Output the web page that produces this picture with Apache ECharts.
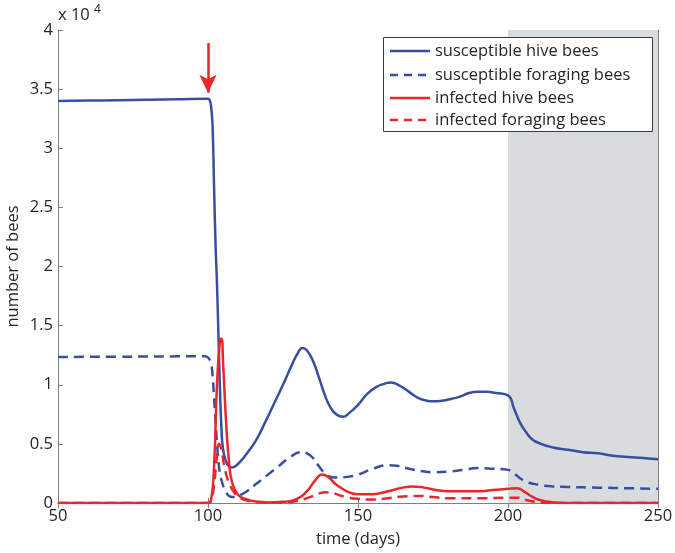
<!DOCTYPE html>
<html><head><meta charset="utf-8">
<script src="https://cdn.jsdelivr.net/npm/echarts@6/dist/echarts.min.js"></script>
<style>html,body{margin:0;padding:0;background:#fff}#c{width:675px;height:553px}</style>
</head><body><div id="c"></div>
<script>
// values in units of 10^4 bees
const xTicks = [50, 100, 150, 200, 250];
const yTicks = [0, 0.5, 1, 1.5, 2, 2.5, 3, 3.5, 4];
const seriesNames = ['susceptible hive bees', 'susceptible foraging bees', 'infected hive bees', 'infected foraging bees'];

const shDays = [50,60,70,80,90,99,100,100.5,101,101.5,102,102.5,103,103.5,104,104.5,105,106,107,108,110,113,116,119,122,125,128,130,131.5,133,135,137,139,141,143,145,147,150,153,156,159,161,164,167,170,173,175,178,181,184,187,190,193,196,200,202,204,206,208,211,215,220,225,230,235,240,245,250];
const shVals = [3.40,3.403,3.406,3.41,3.414,3.418,3.418,3.41,3.36,3.2,2.7,2.2,1.85,1.4,0.95,0.62,0.46,0.35,0.31,0.30,0.33,0.42,0.53,0.68,0.84,1.0,1.17,1.27,1.31,1.29,1.2,1.06,0.91,0.8,0.745,0.73,0.76,0.83,0.92,0.98,1.01,1.02,0.99,0.94,0.89,0.865,0.86,0.865,0.88,0.9,0.93,0.94,0.94,0.93,0.91,0.8,0.68,0.6,0.54,0.5,0.47,0.45,0.43,0.42,0.40,0.39,0.38,0.37];

const sfDays = [50,70,90,99,100,101,101.5,102,102.5,103,103.5,104,105,106,107,108,110,113,116,118,120,123,127,131,133,135,137,139,141,143,146,150,155,160,163,167,171,175,180,185,190,195,200,202,204,206,208,211,215,220,230,240,250];
const sfVals = [1.235,1.237,1.24,1.24,1.23,1.18,1.08,0.9,0.7,0.5,0.35,0.25,0.15,0.09,0.06,0.05,0.06,0.1,0.16,0.2,0.24,0.3,0.38,0.43,0.42,0.38,0.31,0.25,0.22,0.215,0.22,0.24,0.29,0.32,0.315,0.29,0.27,0.26,0.265,0.28,0.295,0.29,0.28,0.25,0.21,0.18,0.165,0.15,0.14,0.135,0.13,0.125,0.12];

const ihDays = [50,100,101,102,103,104,104.5,105,106,107,108,110,113,116,120,125,130,133,136,138,140,143,147,150,155,160,165,168,172,176,180,190,195,200,203,206,208,210,213,216,220,250];
const ihVals = [0,0,0.02,0.3,1.0,1.38,1.39,1.2,0.7,0.35,0.18,0.07,0.03,0.012,0.005,0.01,0.04,0.1,0.2,0.24,0.22,0.15,0.09,0.075,0.075,0.1,0.13,0.14,0.13,0.11,0.1,0.1,0.11,0.12,0.125,0.085,0.055,0.03,0.012,0.004,0,0];

const ifDays = [50,100,101,102,103,103.7,104.5,105.5,107,109,111,114,118,125,130,134,137,139,142,146,150,155,160,165,170,175,180,190,200,203,206,209,213,250];
const ifVals = [0,0,0.02,0.15,0.4,0.5,0.45,0.3,0.17,0.08,0.04,0.015,0.005,0.005,0.02,0.05,0.08,0.09,0.08,0.05,0.035,0.03,0.04,0.055,0.06,0.05,0.04,0.04,0.045,0.045,0.025,0.01,0,0];

const shadeRange = [200, 250];
const arrowFrom = [100, 3.89];
const arrowTo = [100, 3.47];

const BLUE = '#3a4ea1', RED = '#e8262b', TXT = '#262626', FONT = '"Open Sans", "Noto Sans", sans-serif';
const DASH = [10, 6];
const seriesColors = [BLUE, BLUE, RED, RED];
const seriesDashed = [false, true, false, true];
const zip = (d, v) => d.map((x, i) => [x, v[i]]);

const chart = echarts.init(document.getElementById('c'));
const base = { type: 'line', symbol: 'none', smooth: 0.5, z: 3 };
const axisCommon = {
  type: 'value',
  axisLine: { show: true, lineStyle: { color: '#7f7f7f', width: 1 } },
  axisTick: { show: true, inside: true, length: 5, lineStyle: { color: '#7f7f7f' } },
  splitLine: { show: false }
};

// manual legend box
const LG = { x: 383, y: 37, w: 269, h: 94, rows: [51, 75, 98, 120], lx0: 390, lx1: 430, tx: 435 };
const legendGraphics = [{
  type: 'rect', z: 100, shape: { x: LG.x + 0.5, y: LG.y + 0.5, width: LG.w, height: LG.h },
  style: { fill: '#fff', stroke: '#3a3a3a', lineWidth: 1 }
}];
seriesNames.forEach((n, i) => {
  legendGraphics.push({
    type: 'line', z: 101,
    shape: { x1: LG.lx0, y1: LG.rows[i], x2: LG.lx1, y2: LG.rows[i] },
    style: { stroke: seriesColors[i], lineWidth: 2.5, lineDash: seriesDashed[i] ? [8, 6] : null }
  });
  legendGraphics.push({
    type: 'text', z: 101, x: LG.tx, y: LG.rows[i],
    style: { text: n, fontSize: 16.5, fill: TXT, fontFamily: FONT, verticalAlign: 'middle' }
  });
});

chart.setOption({
  animation: false,
  textStyle: { fontFamily: FONT },
  grid: { left: 58, right: 17, top: 30, bottom: 50, containLabel: false, outerBoundsMode: 'none' },
  xAxis: [Object.assign({}, axisCommon, {
    min: 50, max: 250, interval: 50,
    axisLabel: { color: TXT, fontSize: 16.5, margin: 5 },
    name: 'time (days)', nameLocation: 'middle', nameGap: 28,
    nameTextStyle: { color: TXT, fontSize: 16.5 }
  }), Object.assign({}, axisCommon, {
    min: 50, max: 250, interval: 50, position: 'top', axisLabel: { show: false }
  })],
  yAxis: [Object.assign({}, axisCommon, {
    min: 0, max: 4, interval: 0.5,
    axisLabel: { color: TXT, fontSize: 16.5, margin: 5 },
    name: 'number of bees', nameLocation: 'middle', nameGap: 36, nameRotate: 90, nameMoveOverlap: false,
    nameTextStyle: { color: TXT, fontSize: 16.5 }
  }), Object.assign({}, axisCommon, {
    min: 0, max: 4, interval: 0.5, position: 'right', axisLabel: { show: false }
  })],
  series: [
    Object.assign({}, base, {
      name: seriesNames[0], data: zip(shDays, shVals),
      lineStyle: { color: BLUE, width: 2.5 }, itemStyle: { color: BLUE },
      markArea: { silent: true, itemStyle: { color: '#d9dcdf' },
        data: [[{ xAxis: shadeRange[0] }, { xAxis: shadeRange[1] }]] },
      markLine: { silent: true, symbol: ['none', 'arrow'], symbolSize: [13, 18],
        lineStyle: { color: RED, width: 2.5, type: 'solid' }, label: { show: false },
        data: [[{ coord: arrowFrom }, { coord: arrowTo }]] }
    }),
    Object.assign({}, base, {
      name: seriesNames[1], data: zip(sfDays, sfVals),
      lineStyle: { color: BLUE, width: 2.5, type: DASH }, itemStyle: { color: BLUE }
    }),
    Object.assign({}, base, {
      name: seriesNames[2], data: zip(ihDays, ihVals),
      lineStyle: { color: RED, width: 2.5 }, itemStyle: { color: RED }
    }),
    Object.assign({}, base, {
      name: seriesNames[3], data: zip(ifDays, ifVals),
      lineStyle: { color: RED, width: 2.5, type: DASH }, itemStyle: { color: RED }
    })
  ],
  graphic: legendGraphics.concat([
    { type: 'text', x: 58, y: 24, style: { text: 'x 10', fontSize: 16.5, fill: TXT, fontFamily: FONT, verticalAlign: 'bottom' } },
    { type: 'text', x: 94, y: 16, style: { text: '4', fontSize: 12, fill: TXT, fontFamily: FONT, verticalAlign: 'bottom' } }
  ])
});
</script></body></html>
